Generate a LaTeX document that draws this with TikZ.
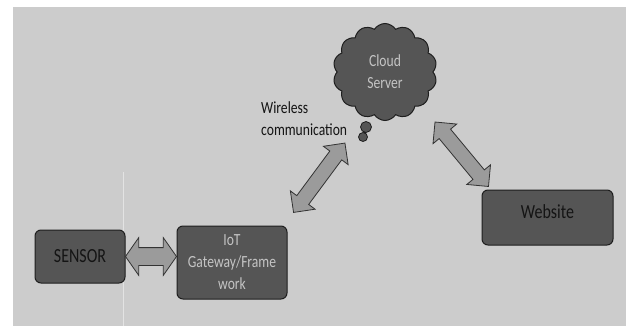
\documentclass[tikz,border=0pt]{standalone}
\usepackage{fontspec}
\setmainfont{Carlito}[FakeStretch=0.8]
\usetikzlibrary{positioning}
\usetikzlibrary{calc}
\usetikzlibrary{shapes.symbols}
\usetikzlibrary{shapes.arrows}
\definecolor{sheet fill}{HTML}{CCCCCC}
\definecolor{box fill}{HTML}{555555}
\definecolor{box edge}{HTML}{1E1E1E}
\definecolor{arrow fill}{HTML}{9B9B9B}
\definecolor{arrow edge}{HTML}{333333}
\definecolor{pale text}{HTML}{C4C4C4}
\definecolor{dark text}{HTML}{141414}
\tikzset{
    % Dark rounded box for each part of the system
    device box/.style={
        draw=box edge, fill=box fill, line width=1pt,
        rounded corners=6pt, inner sep=0pt, align=center},
%
    % Text sizes used in the picture
    big text/.style={font=\fontsize{20}{24}\selectfont},
    small text/.style={font=\fontsize{17}{22}\selectfont},
%
    % Fat double arrow joining two parts
    link arrow/.style={
        double arrow, draw=arrow edge, fill=arrow fill, line width=0.8pt,
        inner xsep=0pt, minimum width=0pt},
    thin link/.style={link arrow, inner ysep=7pt,
        double arrow head extend=8pt, double arrow tip angle=90},
    wide link/.style={link arrow, inner ysep=8.5pt,
        double arrow head extend=10pt, double arrow tip angle=110}}

\begin{document}
\begin{tikzpicture}[x=1pt, y=-1pt]

% Grey sheet behind everything
\useasboundingbox (0,0) rectangle (626,326);
\fill[sheet fill] (13,7) rectangle (626,326);
\draw[white!45!sheet fill, line width=0.6pt] (123.5,172) -- (123.5,326);

% The parts of the system
\node[device box, big text, text=dark text,
    minimum width=90pt, minimum height=53pt]
    (sensor) at (80,256.5) {SENSOR};

\node[device box, small text, text=pale text,
    minimum width=110pt, minimum height=73pt]
    (gateway) at (232,262.5) {IoT\\Gateway/Frame\\work};

\node[device box, big text, text=dark text, text depth=12pt,
    minimum width=131pt, minimum height=55pt]
    (website) at (547.5,217.5) {Website};

% Cloud server with its little thought bubbles
\node[cloud, cloud puffs=14, cloud puff arc=115, aspect=1.1,
    draw=box edge, fill=box fill, line width=1pt,
    minimum width=104pt, minimum height=97pt,
    small text, text=pale text, align=center, inner sep=0pt]
    (cloud) at (385,72) {Cloud\\Server};
\filldraw[draw=box edge, fill=box fill, line width=0.8pt]
    ($(cloud.center)+(-19,55)$) circle (5.5pt)
    ($(cloud.center)+(-22,65)$) circle (4.5pt);

\node[small text, text=dark text, align=left, inner sep=0pt,
    anchor=north west] (wireless) at (261,101)
    {Wireless\\communication};

% Arrow ends
\coordinate (sensor end) at (sensor.east -| gateway.west);
\coordinate (gateway end) at ($(gateway.north east)+(6,-13)$);
\coordinate (cloud low end) at ($(cloud.center)+(-40,71)$);
\coordinate (cloud right end) at ($(cloud.center)+(50,50)$);
\coordinate (website end) at ($(website.north west)+(7,-3)$);

% Links between the parts
\path let \p1=($(sensor end)-(sensor.east)$), \n1={veclen(\x1,\y1)} in
    (sensor.east) -- node[wide link, sloped, minimum height=\n1]
    (sensor link) {} (sensor end);

\path let \p1=($(cloud low end)-(gateway end)$), \n1={veclen(\x1,\y1)} in
    (gateway end) -- node[thin link, sloped, minimum height=\n1]
    (gateway link) {} (cloud low end);

\path let \p1=($(website end)-(cloud right end)$), \n1={veclen(\x1,\y1)} in
    (cloud right end) -- node[thin link, sloped, minimum height=\n1]
    (website link) {} (website end);

\end{tikzpicture}
\end{document}
